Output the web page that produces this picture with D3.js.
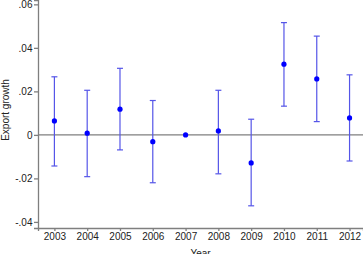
<html lang='en'>
    <head>
        <script src="https://d3js.org/d3.v7.min.js" charset="utf-8"></script>
        <style>
          body { margin: 0; background: white; }
          .tick text { font-family: "Liberation Sans", Arial, sans-serif; font-size: 10px; fill: #222; }
          .axis path, .axis line { stroke: #7f7f7f; stroke-width: 1.3; }
        </style>
    </head>
    <body>
        <script>
            // data
            var years = [2003, 2004, 2005, 2006, 2007, 2008, 2009, 2010, 2011, 2012]
            var estimate = [0.0064, 0.0008, 0.0118, -0.0031, 0, 0.0018, -0.0129, 0.0325, 0.0257, 0.0078]
            var upper = [0.0267, 0.0205, 0.0306, 0.0158, null, 0.0205, 0.0072, 0.0516, 0.0454, 0.0276]
            var lower = [-0.0143, -0.0192, -0.0069, -0.0220, null, -0.0179, -0.0326, 0.0132, 0.0061, -0.0120]
            var yTicks = [-0.04, -0.02, 0, 0.02, 0.04, 0.06]
            var yTickLabels = ["-.04", "-.02", "0", ".02", ".04", ".06"]

            var width = 363
            var height = 254

            var svg = d3.select("body")
                        .append("svg")
                        .attr("width", width)
                        .attr("height", height)

            var x = d3.scaleLinear()
                .domain([2002.5, 2012.41])
                .range([38, 363])

            var y = d3.scaleLinear()
                .domain([-0.0428, 0.062])
                .range([228, 0])

            // zero line
            svg.append("line")
               .attr("x1", x.range()[0])
               .attr("x2", x.range()[1])
               .attr("y1", y(0))
               .attr("y2", y(0))
               .style("stroke", "#7f7f7f")
               .style("stroke-width", 1.2)

            // axes
            svg.append("g")
               .attr("class", "axis")
               .attr("transform", "translate(38,0)")
               .call(d3.axisLeft(y)
                    .tickValues(yTicks)
                    .tickSize(4)
                    .tickPadding(1.5)
                    .tickFormat(function(d, i) { return yTickLabels[i] }))

            svg.append("g")
               .attr("class", "axis")
               .attr("transform", "translate(0,228)")
               .call(d3.axisBottom(x)
                    .tickValues(years)
                    .tickSize(3)
                    .tickPadding(2)
                    .tickFormat(d3.format("d")))

            // axis titles
            svg.append("text")
               .attr("transform", "translate(8.7,110) rotate(-90)")
               .attr("text-anchor", "middle")
               .style("font-family", "Liberation Sans, Arial, sans-serif")
               .style("font-size", "10px")
               .style("fill", "#222")
               .text("Export growth")

            svg.append("text")
               .attr("x", (38 + 363) / 2)
               .attr("y", 257)
               .attr("text-anchor", "middle")
               .style("font-family", "Liberation Sans, Arial, sans-serif")
               .style("font-size", "10px")
               .style("fill", "#222")
               .text("Year")

            // error bars
            var rows = years.map(function(yr, i) {
              return { year: yr, est: estimate[i], hi: upper[i], lo: lower[i] }
            }).filter(function(d) { return d.hi !== null })

            var bars = svg.append("g")
                .style("stroke", "#5555e8")
                .style("stroke-width", 1.2)

            bars.selectAll(".stem")
                .data(rows)
                .enter().append("line")
                .attr("x1", function(d) { return x(d.year) })
                .attr("x2", function(d) { return x(d.year) })
                .attr("y1", function(d) { return y(d.hi) })
                .attr("y2", function(d) { return y(d.lo) })

            bars.selectAll(".capTop")
                .data(rows)
                .enter().append("line")
                .attr("x1", function(d) { return x(d.year) - 3 })
                .attr("x2", function(d) { return x(d.year) + 3 })
                .attr("y1", function(d) { return y(d.hi) })
                .attr("y2", function(d) { return y(d.hi) })

            bars.selectAll(".capBot")
                .data(rows)
                .enter().append("line")
                .attr("x1", function(d) { return x(d.year) - 3 })
                .attr("x2", function(d) { return x(d.year) + 3 })
                .attr("y1", function(d) { return y(d.lo) })
                .attr("y2", function(d) { return y(d.lo) })

            // points
            svg.selectAll(".pt")
               .data(years)
               .enter().append("circle")
               .attr("cx", function(d) { return x(d) })
               .attr("cy", function(d, i) { return y(estimate[i]) })
               .attr("r", 2.6)
               .style("fill", "#0000ff")
        </script>
    </body>
</html>
